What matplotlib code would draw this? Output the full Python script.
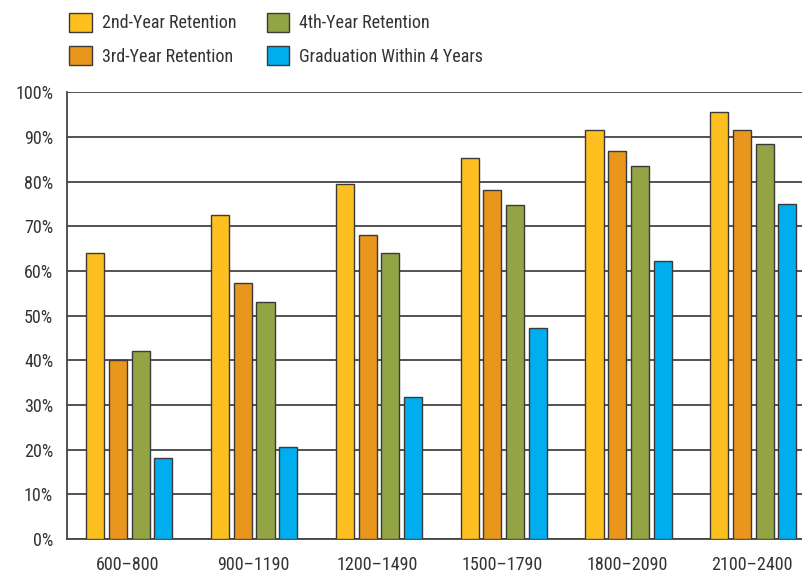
import numpy as np
import matplotlib.pyplot as plt
from matplotlib import font_manager

# data
categories = ['600\u2013800', '900\u20131190', '1200\u20131490', '1500\u20131790', '1800\u20132090', '2100\u20132400']
second_year = [64, 72.5, 79.5, 85.3, 91.5, 95.5]
third_year = [40, 57.2, 68, 78, 86.8, 91.5]
fourth_year = [42, 53.1, 64, 74.7, 83.4, 88.4]
grad_4yr = [18.2, 20.6, 31.9, 47.2, 62.2, 75]
series_names = ['2nd-Year Retention', '3rd-Year Retention', '4th-Year Retention', 'Graduation Within 4 Years']
colors = ['#FDC020', '#E8971C', '#93A444', '#00AEEF']

# pick a narrow font if it is around
names = {f.name for f in font_manager.fontManager.ttflist}
font = 'DejaVu Sans'
for cand in ['Roboto Condensed', 'Archivo Narrow', 'Barlow Semi Condensed']:
    if cand in names:
        font = cand
        break
plt.rcParams['font.family'] = [font, 'DejaVu Sans']

fig = plt.figure(figsize=(8.02, 5.76), dpi=100)
ax = fig.add_axes([0.0835, 0.064, 0.9165, 0.776])

x = np.arange(len(categories))
width = 0.145
step = 0.182
all_series = [second_year, third_year, fourth_year, grad_4yr]
handles = []
for i, vals in enumerate(all_series):
    offs = (i - 1.5) * step
    b = ax.bar(x + offs + 0.01, vals, width, color=colors[i], edgecolor='#3a3a3a',
               linewidth=1.0, zorder=3, label=series_names[i])
    handles.append(b)

ax.set_ylim(0, 100)
ax.set_xlim(-0.49, 5.4)
ax.set_yticks(np.arange(0, 101, 10))
ax.set_yticklabels([f'{v}%' for v in range(0, 101, 10)])
ax.set_xticks(x)
ax.set_xticklabels(categories)
ax.yaxis.grid(True, color='#444444', linewidth=1.3, zorder=0)
ax.tick_params(axis='both', length=0, labelsize=13, colors='#333333', pad=10)
ax.tick_params(axis='x', pad=12)
for s in ['top', 'right']:
    ax.spines[s].set_visible(False)
for s in ['left', 'bottom']:
    ax.spines[s].set_color('#444444')
    ax.spines[s].set_linewidth(1.3)

fig.legend(handles=handles, ncol=2, loc='upper left', bbox_to_anchor=(0.066, 1.006),
           frameon=False, fontsize=13, handlelength=1.25, handleheight=1.25,
           columnspacing=1.7, handletextpad=0.55, labelspacing=0.75,
           labelcolor='#333333')

plt.savefig('out.png', dpi=100)
